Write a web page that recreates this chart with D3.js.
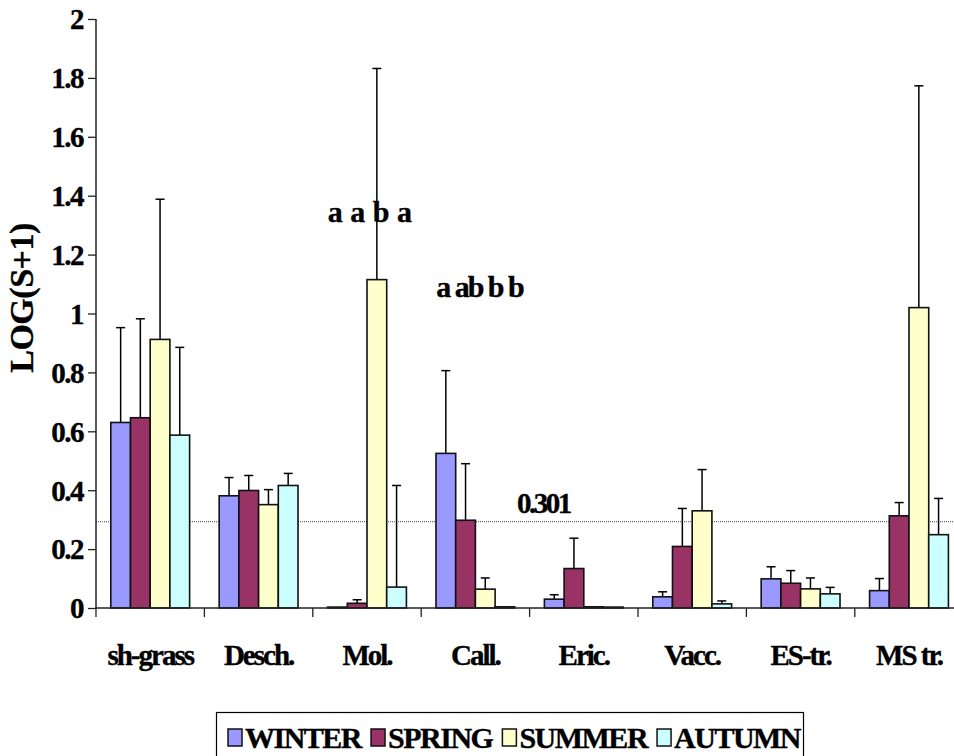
<!DOCTYPE html>
<html>
<head>
<meta charset="utf-8">
<script src="https://cdn.jsdelivr.net/npm/d3@7"></script>
<style>
html,body{margin:0;padding:0;background:#fff;}
svg{display:block;}
text{font-family:"Liberation Serif","Times New Roman",serif;font-weight:bold;fill:#000;stroke:#000;stroke-width:0.35px;}
</style>
</head>
<body>
<svg id="chart" width="954" height="756"></svg>
<script>
const categories = ["sh-grass","Desch.","Mol.","Call.","Eric.","Vacc.","ES-tr.","MS tr."];
const seasons = ["WINTER","SPRING","SUMMER","AUTUMN"];
const seasonColors = ["#9999FF","#993366","#FFFFCC","#CCFFFF"];
const winter = [0.630,0.381,0.003,0.525,0.030,0.038,0.099,0.059];
const spring = [0.646,0.399,0.016,0.298,0.134,0.209,0.084,0.313];
const summer = [0.912,0.351,1.115,0.064,0.004,0.330,0.065,1.020];
const autumn = [0.587,0.416,0.071,0.004,0.003,0.014,0.048,0.249];
const winterErr = [0.322,0.062,0.000,0.281,0.015,0.017,0.041,0.041];
const springErr = [0.336,0.051,0.012,0.192,0.103,0.129,0.043,0.045];
const summerErr = [0.476,0.051,0.717,0.038,0.000,0.140,0.037,0.753];
const autumnErr = [0.298,0.041,0.345,0.000,0.000,0.010,0.022,0.123];
const yTicks = [0,0.2,0.4,0.6,0.8,1,1.2,1.4,1.6,1.8,2];
const yTickLabels = ["0","0.2","0.4","0.6","0.8","1","1.2","1.4","1.6","1.8","2"];
const refLineValue = 0.293;
const refLabel = "0.301";
const annotations = [
  {text:"a a b a", cat:"Mol.", value:1.31, spacing:0},
  {text:"a ab b b", cat:"Call.", value:1.055, spacing:-2}
];

const values = [winter, spring, summer, autumn];
const errs = [winterErr, springErr, summerErr, autumnErr];

const svg = d3.select("#chart");
const x0 = d3.scaleBand().domain(categories).range([96, 963.2]).paddingInner(0).paddingOuter(0);
const x1 = d3.scaleBand().domain(seasons).range([0, x0.bandwidth()]).paddingInner(0).paddingOuter(0.75);
const y = d3.scaleLinear().domain([0,2]).range([608, 19]);

svg.append("line")
  .attr("x1", 96).attr("x2", 954)
  .attr("y1", y(refLineValue)).attr("y2", y(refLineValue))
  .attr("stroke", "#444").attr("stroke-width", 1).attr("stroke-dasharray", "1,1");

const data = [];
categories.forEach((c, i) => seasons.forEach((s, j) => {
  data.push({cat:c, season:s, v:values[j][i], e:errs[j][i], color:seasonColors[j]});
}));

const g = svg.append("g");
const cx = d => x0(d.cat) + x1(d.season) + x1.bandwidth()/2;
const eb = g.selectAll(".err").data(data.filter(d => d.e > 0)).join("g");
eb.append("line")
  .attr("x1", cx).attr("x2", cx)
  .attr("y1", d => y(d.v)).attr("y2", d => y(d.v + d.e))
  .attr("stroke", "#000").attr("stroke-width", 1.5);
eb.append("line")
  .attr("x1", d => cx(d) - 4.5).attr("x2", d => cx(d) + 4.5)
  .attr("y1", d => y(d.v + d.e)).attr("y2", d => y(d.v + d.e))
  .attr("stroke", "#000").attr("stroke-width", 1.5);

g.selectAll("rect.bar").data(data).join("rect")
  .attr("class","bar")
  .attr("x", d => x0(d.cat) + x1(d.season))
  .attr("width", x1.bandwidth())
  .attr("y", d => y(d.v))
  .attr("height", d => y(0) - y(d.v))
  .attr("fill", d => d.color)
  .attr("stroke", "#111").attr("stroke-width", 1.6);

const yAxis = d3.axisLeft(y).tickValues(yTicks).tickSize(8).tickPadding(5)
  .tickFormat((d,i) => yTickLabels[i]);
const ya = svg.append("g").attr("transform","translate(96,0)").call(yAxis);
ya.select(".domain").attr("stroke","#222").attr("stroke-width",1.5).attr("d","M0,19V608");
ya.selectAll(".tick line").attr("stroke","#222").attr("stroke-width",1.3);
ya.selectAll(".tick text")
  .style("font-family",'"Liberation Serif",serif').style("font-weight","bold")
  .style("font-size","29px").style("letter-spacing","-1.5px")
  .attr("dy","0.34em").attr("fill","#000");

svg.append("line").attr("x1",96).attr("x2",963).attr("y1",608).attr("y2",608)
  .attr("stroke","#222").attr("stroke-width",1.5);
const bounds = categories.map(c => x0(c)).concat([x0.range()[1]]);
svg.selectAll(".xtick").data(bounds).join("line")
  .attr("x1", d => d).attr("x2", d => d).attr("y1", 608).attr("y2", 617)
  .attr("stroke","#222").attr("stroke-width",1.3);
svg.selectAll(".xlab").data(categories).join("text")
  .attr("x", d => x0(d) + x0.bandwidth()/2)
  .attr("y", 665)
  .attr("text-anchor","middle")
  .style("font-size","29px").style("letter-spacing","-2px")
  .text(d => d);

svg.append("text")
  .attr("transform","translate(33,298) rotate(-90)")
  .attr("text-anchor","middle")
  .style("font-size","34px").style("letter-spacing","-0.5px")
  .text("LOG(S+1)");

svg.append("text").attr("x", 517).attr("y", 513)
  .style("font-size","29px").style("letter-spacing","-2.5px")
  .text(refLabel);

annotations.forEach(a => {
  svg.append("text")
    .attr("x", x0(a.cat) + 15).attr("y", y(a.value))
    .style("font-size","30px").style("letter-spacing", a.spacing + "px")
    .style("white-space","pre")
    .text(a.text);
});

const lg = svg.append("g");
lg.append("rect").attr("x",216.5).attr("y",712.5).attr("width",587).attr("height",60)
  .attr("fill","#fff").attr("stroke","#000").attr("stroke-width",1.2);
let lx = 228;
seasons.forEach((s, j) => {
  lg.append("rect").attr("x", lx).attr("y", 729).attr("width", 14).attr("height", 17)
    .attr("fill", seasonColors[j]).attr("stroke","#111").attr("stroke-width",1.5);
  const t = lg.append("text").attr("x", lx + 17).attr("y", 748)
    .style("font-size","30px").style("letter-spacing","-1.5px").text(s);
  lx += 17 + t.node().getComputedTextLength() + 10;
});
</script>
</body>
</html>
